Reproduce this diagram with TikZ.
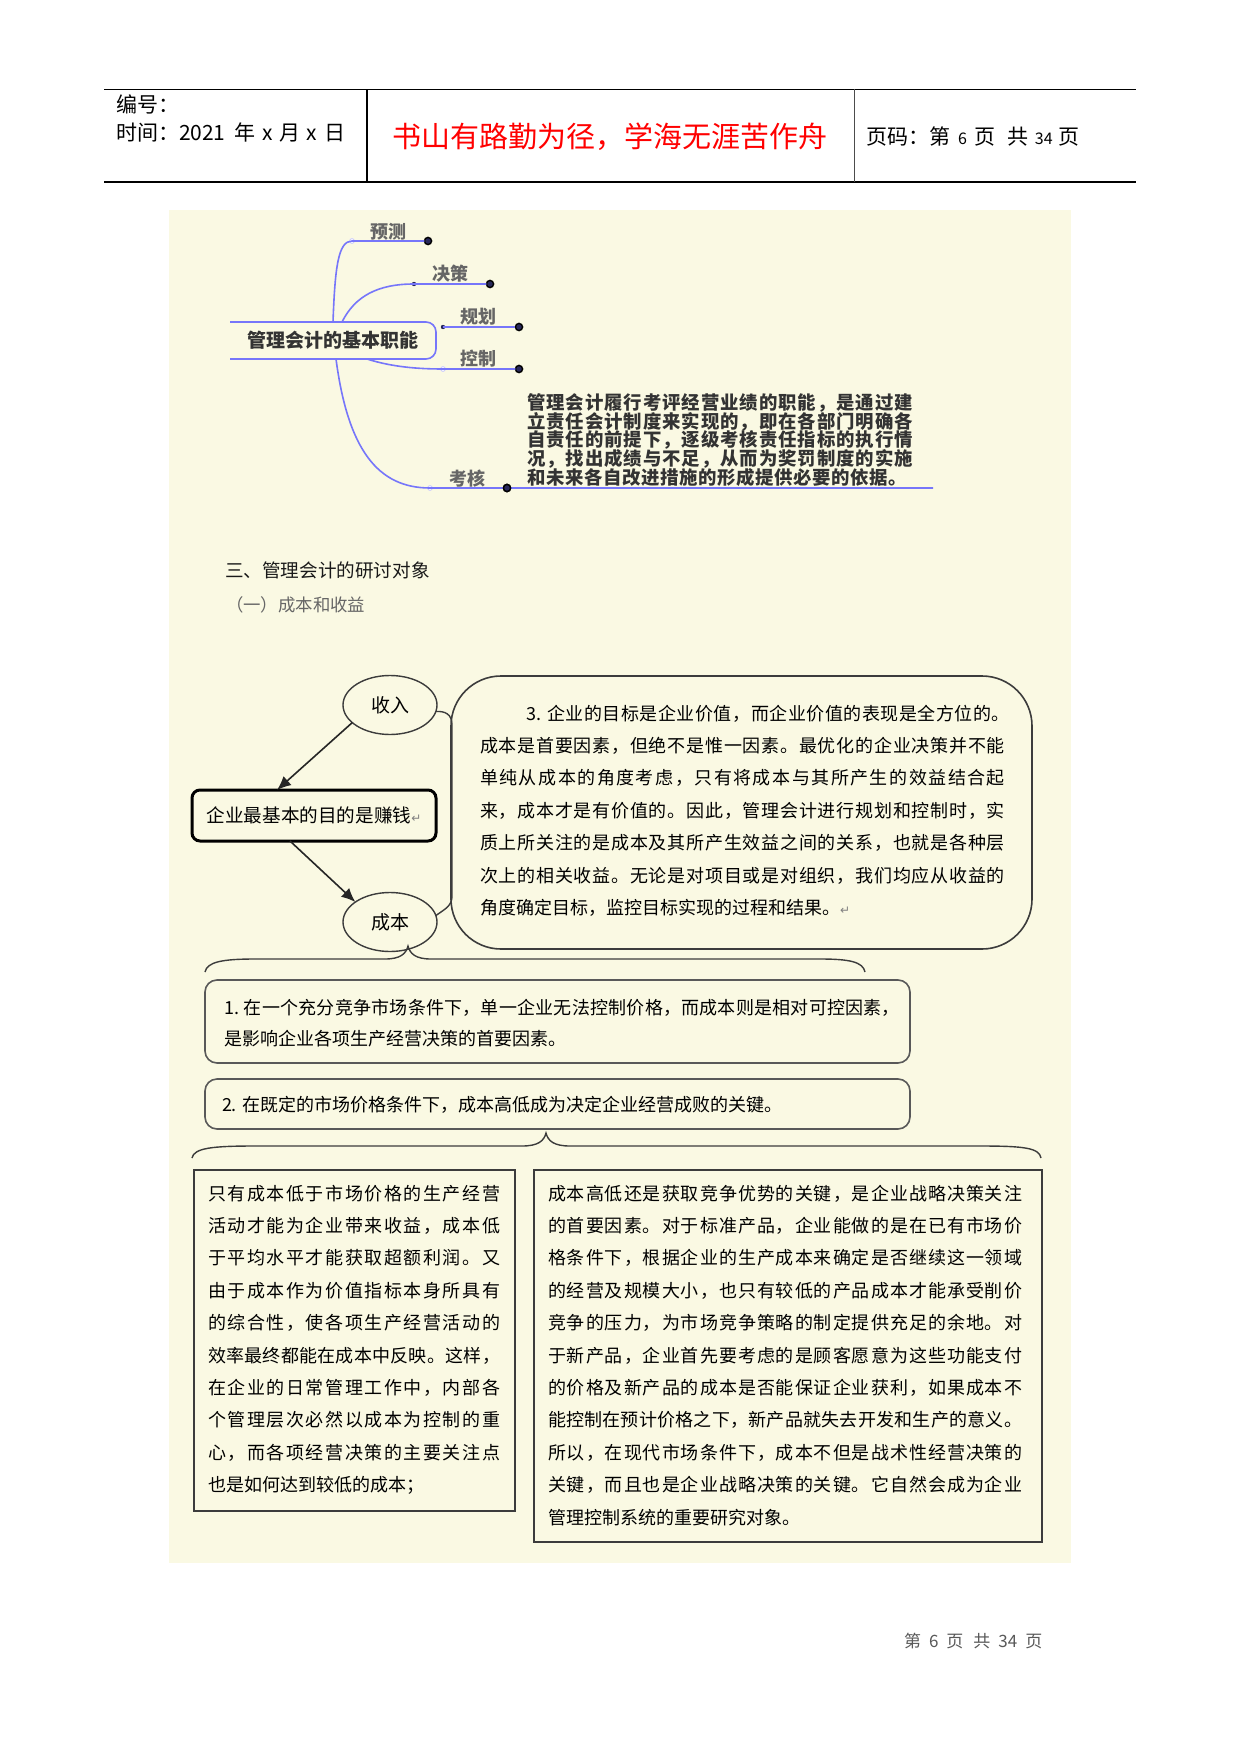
\documentclass[tikz,border=0pt]{standalone}
\usepackage{fontspec}
\setmainfont{Noto Sans CJK SC}
\newfontfamily\dejavu{DejaVu Sans}
\usetikzlibrary{shapes.geometric,arrows.meta,calc}
\definecolor{bg}{RGB}{250,249,227}
\definecolor{mmblue}{RGB}{118,118,250}
\definecolor{lineg}{RGB}{60,60,60}
\definecolor{dotc}{RGB}{40,40,90}
\def\spr#1{#1\sprx}
\def\sprx#1{\ifx#1\relax\else\hskip0pt plus 1pt #1\expandafter\sprx\fi}
\newcommand\jl[2]{\makebox[#1][s]{\expandafter\spr#2\relax}}
\newcommand\pmark{{\dejavu\color{gray}\fontsize{6pt}{6pt}\selectfont ↵}}
\begin{document}
\begin{tikzpicture}[x=0.5pt,y=-0.5pt,
  every node/.style={inner sep=0pt,outer sep=0pt},
  hdr/.style={font=\fontsize{10.5pt}{12pt}\selectfont,anchor=west},
  mmlab/.style={font=\bfseries\fontsize{9pt}{10pt}\selectfont,text=black!60},
  mmline/.style={draw=mmblue,line width=0.8pt},
  endc/.style={circle,draw=black,fill=dotc,line width=0.7pt,minimum size=3.6pt},
  startd/.style={circle,fill=dotc,minimum size=2.2pt},
  starth/.style={circle,draw=mmblue!40,fill=white,line width=0.4pt,minimum size=2.4pt},
  mmdesc/.style={font=\bfseries\fontsize{9.2pt}{10pt}\selectfont,text=black!80,anchor=base west},
  body/.style={font=\fontsize{9pt}{10pt}\selectfont,text=black,anchor=base west},
  oval/.style={ellipse,draw=lineg,line width=0.7pt,minimum width=47pt,minimum height=29.5pt,font=\fontsize{9.5pt}{10pt}\selectfont},
  arr/.style={-{Latex[length=7pt,width=6pt]},line width=0.8pt,draw=black!85},
  rbox/.style={draw=lineg!85,line width=0.8pt,rounded corners=6pt},
  sbox/.style={draw=lineg,line width=1pt}]
\useasboundingbox (0,0) rectangle (1241,1754);
\fill[white] (0,0) rectangle (1241,1754);
% ---------- header ----------
\draw[line width=0.8pt] (104,89.5) -- (1136,89.5);
\draw[line width=0.8pt] (104,182) -- (1136,182);
\draw[line width=0.9pt] (367,89.5) -- (367,182);
\draw[line width=0.5pt,draw=black!70] (854,89.5) -- (854,182);
\node[hdr] (bh) at (116,104) {编号：};
\node[hdr] (sj) at (116,132) {时间：2021\hspace{2pt} 年\hspace{1pt} x\hspace{1pt} 月\hspace{1pt} x\hspace{1pt} 日};
\node[text=red,font=\fontsize{14.5pt}{16pt}\selectfont] (title) at (610,137) {书山有路勤为径，学海无涯苦作舟};
\node[hdr] (pg) at (866,137) {页码：第\hspace{4pt}{\fontsize{8pt}{9pt}\selectfont 6}\hspace{4pt}页\hspace{6pt}共\hspace{3pt}{\fontsize{8pt}{9pt}\selectfont 34}\hspace{3pt}页};
% ---------- background ----------
\fill[bg] (169,210) rectangle (1071,1563);
% ---------- mind map ----------
\node[font=\bfseries\fontsize{9.5pt}{10pt}\selectfont,text=black!80,minimum width=103pt,minimum height=18.5pt] (core) at (333,340.5) {管理会计的基本职能};
\draw[mmline,rounded corners=5pt] (core.north west) -- (core.north east) -- (core.south east) -- (core.south west);
\coordinate (c1) at (333,322);
\coordinate (c2) at (342,322);
\coordinate (c4) at (367,359);
\coordinate (c5) at (336,359);
\node[starth] (s1) at (352,241) {};
\node[startd] (s2) at (414,284) {};
\node[startd] (s3) at (443,327) {};
\node[starth] (s4) at (443,369) {};
\node[starth] (s5) at (430,488) {};
\node[endc] (e1) at (428,241) {};
\node[endc] (e2) at (490,284) {};
\node[endc] (e3) at (519,327) {};
\node[endc] (e4) at (519,369) {};
\node[endc] (e5) at (507,488) {};
\coordinate (e5x) at (933,488);
\draw[mmline] (c1) .. controls (335,268) and (338,241) .. (s1.center) -- (e1);
\draw[mmline] (c2) .. controls (355,296) and (378,284) .. (s2.center) -- (e2);
\draw[mmline] (s3.center) -- (e3);
\draw[mmline] (c4) .. controls (392,367) and (418,369) .. (s4.center) -- (e4);
\draw[mmline] (c5) .. controls (348,450) and (378,488) .. (s5.center) -- (e5) -- (e5x);
\node[endc] (e5b) at (e5) {};
\node[mmlab] (l1) at (388,232) {预测};
\node[mmlab] (l2) at (450,274) {决策};
\node[mmlab] (l3) at (478,317) {规划};
\node[mmlab] (l4) at (478,359) {控制};
\node[mmlab] (l5) at (467,479) {考核};
\foreach \linetext [count=\i from 0] in {
  管理会计履行考评经营业绩的职能，是通过建,
  立责任会计制度来实现的，即在各部门明确各,
  自责任的前提下，逐级考核责任指标的执行情,
  况，找出成绩与不足，从而为奖罚制度的实施}
  \node[mmdesc] (md\i) at (527,409.5+\i*18.7) {\jl{193pt}{\linetext}};
\node[mmdesc] (md4) at (527,484.3) {\jl{190pt}{和未来各自改进措施的形成提供必要的依据。}};
% ---------- headings ----------
\node[anchor=base west,font=\fontsize{9.3pt}{10pt}\selectfont,text=black!90] (h3) at (225,577) {三、管理会计的研讨对象};
\node[anchor=base west,font=\fontsize{8.7pt}{10pt}\selectfont,text=black!60] (h31) at (226,611.5) {（一）成本和收益};
% ---------- cost / revenue diagram ----------
\node[oval] (shouru) at (390,705) {收入};
\node[oval] (chengben) at (390,922) {成本};
\node[draw=black,line width=1.5pt,rounded corners=4pt,minimum width=122pt,minimum height=25.5pt,font=\fontsize{9.3pt}{10pt}\selectfont] (goal) at (314,815.5) {企业最基本的目的是赚钱\pmark};
\draw[arr] (shouru.205) -- ($(goal.north)+(-37,0)$);
\draw[arr] ($(goal.south)+(-24,0)$) -- (chengben.150);
\draw[draw=lineg,line width=0.7pt] (shouru.-8) .. controls (445,711) and (452,714) .. (452,725) -- (452,896) .. controls (452,906) and (445,909) .. (chengben.8);
\node[draw=lineg,line width=0.8pt,rounded corners=25pt,minimum width=290.5pt,minimum height=136.5pt] (big) at (741.5,812.5) {};
\node[body] (bg0) at (526,720) {\jl{242pt}{3.~企业的目标是企业价值，而企业价值的表现是全方位的。}};
\foreach \linetext [count=\i from 1] in {
  成本是首要因素，但绝不是惟一因素。最优化的企业决策并不能,
  单纯从成本的角度考虑，只有将成本与其所产生的效益结合起,
  来，成本才是有价值的。因此，管理会计进行规划和控制时，实,
  质上所关注的是成本及其所产生效益之间的关系，也就是各种层,
  次上的相关收益。无论是对项目或是对组织，我们均应从收益的}
  \node[body] (bg\i) at (480,720+\i*32.4) {\jl{262.5pt}{\linetext}};
\node[body] (bg6) at (480,914.4) {角度确定目标，监控目标实现的过程和结果。\pmark};
% brace 1
\draw[draw=lineg,line width=0.7pt] (205,972) .. controls (207,962) and (222,959) .. (255,959) -- (385,959) .. controls (400,959) and (406,954) .. (408,946) .. controls (410,954) and (416,959) .. (431,959) -- (820,959) .. controls (850,959) and (863,962) .. (865,972);
% box 1 and box 2
\node[rbox,minimum width=352.5pt,minimum height=41.5pt] (b1) at (557.5,1021.5) {};
\node[body] (b1a) at (224,1014) {\jl{338pt}{1.~在一个充分竞争市场条件下，单一企业无法控制价格，而成本则是相对可控因素，}};
\node[body] (b1b) at (224,1045.5) {是影响企业各项生产经营决策的首要因素。};
\node[rbox,minimum width=352.5pt,minimum height=25pt] (b2) at (557.5,1104) {};
\node[body] (b2a) at (222,1111) {2. 在既定的市场价格条件下，成本高低成为决定企业经营成败的关键。};
% brace 2
\draw[draw=lineg,line width=0.7pt] (192,1158) .. controls (194,1148) and (212,1146) .. (255,1146) -- (522,1146) .. controls (538,1146) and (544,1141) .. (546,1133) .. controls (548,1141) and (554,1146) .. (570,1146) -- (980,1146) .. controls (1025,1146) and (1039,1148) .. (1041,1158);
% bottom boxes
\node[sbox,minimum width=160.5pt,minimum height=170.5pt] (lb) at (354.5,1340.5) {};
\node[sbox,minimum width=254pt,minimum height=186pt] (rb) at (788,1356) {};
\foreach \linetext [count=\i from 0] in {
  只有成本低于市场价格的生产经营,
  活动才能为企业带来收益，成本低,
  于平均水平才能获取超额利润。又,
  由于成本作为价值指标本身所具有,
  的综合性，使各项生产经营活动的,
  效率最终都能在成本中反映。这样，,
  在企业的日常管理工作中，内部各,
  个管理层次必然以成本为控制的重,
  心，而各项经营决策的主要关注点}
  \node[body] (lt\i) at (208,1200+\i*32.4) {\jl{146pt}{\linetext}};
\node[body] (lt9) at (208,1491.6) {也是如何达到较低的成本；};
\foreach \linetext [count=\i from 0] in {
  成本高低还是获取竞争优势的关键，是企业战略决策关注,
  的首要因素。对于标准产品，企业能做的是在已有市场价,
  格条件下，根据企业的生产成本来确定是否继续这一领域,
  的经营及规模大小，也只有较低的产品成本才能承受削价,
  竞争的压力，为市场竞争策略的制定提供充足的余地。对,
  于新产品，企业首先要考虑的是顾客愿意为这些功能支付,
  的价格及新产品的成本是否能保证企业获利，如果成本不,
  能控制在预计价格之下，新产品就失去开发和生产的意义。,
  所以，在现代市场条件下，成本不但是战术性经营决策的,
  关键，而且也是企业战略决策的关键。它自然会成为企业}
  \node[body] (rt\i) at (548,1200+\i*32.4) {\jl{237pt}{\linetext}};
\node[body] (rt10) at (548,1524) {管理控制系统的重要研究对象。};
% ---------- footer ----------
\node[anchor=base west,font=\fontsize{8.5pt}{10pt}\selectfont,text=black!65] (ft) at (904,1647) {第\hspace{4pt}6\hspace{4pt}页\hspace{5pt}共\hspace{4pt}34\hspace{4pt}页};
\end{tikzpicture}
\end{document}
